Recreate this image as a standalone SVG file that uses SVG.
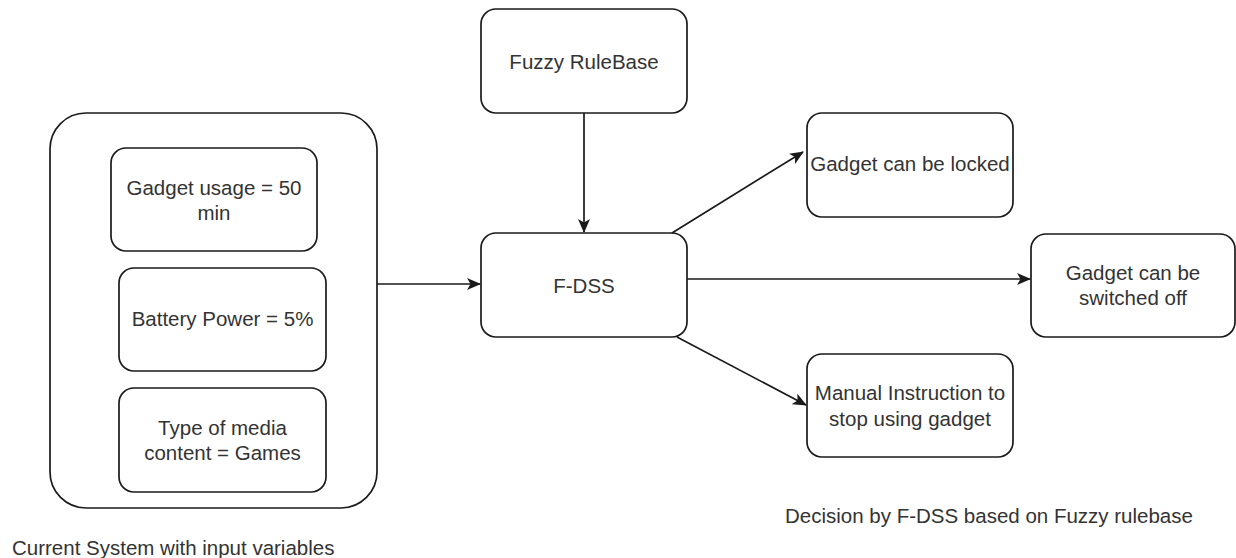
<svg xmlns="http://www.w3.org/2000/svg" width="1236" height="558" viewBox="0 0 1236 558">
<style>
.box{fill:#fff;stroke:#1a1a1a;stroke-width:1.7}
.t{font-family:"Liberation Sans",Arial,sans-serif;font-size:20.5px;fill:#333;text-anchor:middle;dominant-baseline:central}
.lbl{font-family:"Liberation Sans",Arial,sans-serif;font-size:20.5px;fill:#333;dominant-baseline:central}
.edge{fill:none;stroke:#1a1a1a;stroke-width:1.7}
</style>
<defs>
<marker id="arr" viewBox="0 0 14 12" refX="13" refY="6" markerWidth="14" markerHeight="12" markerUnits="userSpaceOnUse" orient="auto">
<path d="M0,0 L14,6 L0,12 L3.5,6 Z" fill="#1a1a1a"/>
</marker>
</defs>
<rect width="1236" height="558" fill="#fff"/>
<g id="container">
<rect class="box" x="50" y="113" width="327" height="395" rx="36" ry="36"/>
</g>
<g id="usage">
<rect class="box" x="111" y="148" width="206" height="103" rx="15" ry="15"/>
<text class="t" x="214" y="187">Gadget usage = 50</text>
<text class="t" x="214" y="212">min</text>
</g>
<g id="battery">
<rect class="box" x="119" y="268" width="207" height="103" rx="15" ry="15"/>
<text class="t" x="222.5" y="318">Battery Power = 5%</text>
</g>
<g id="media">
<rect class="box" x="119" y="388" width="207" height="104" rx="15" ry="15"/>
<text class="t" x="222.5" y="427">Type of media</text>
<text class="t" x="222.5" y="452">content = Games</text>
</g>
<g id="fuzzy">
<rect class="box" x="481" y="9" width="206" height="104" rx="15" ry="15"/>
<text class="t" x="584" y="61">Fuzzy RuleBase</text>
</g>
<g id="fdss">
<rect class="box" x="481" y="233" width="206" height="104" rx="15" ry="15"/>
<text class="t" x="584" y="285">F-DSS</text>
</g>
<g id="locked">
<rect class="box" x="807" y="113" width="206" height="104" rx="15" ry="15"/>
<text class="t" x="910" y="163">Gadget can be locked</text>
</g>
<g id="switched">
<rect class="box" x="1031" y="234" width="204" height="103" rx="15" ry="15"/>
<text class="t" x="1133" y="272">Gadget can be</text>
<text class="t" x="1133" y="297">switched off</text>
</g>
<g id="manual">
<rect class="box" x="807" y="354" width="206" height="103" rx="15" ry="15"/>
<text class="t" x="910" y="392">Manual Instruction to</text>
<text class="t" x="910" y="418">stop using gadget</text>
</g>
<g id="connectors">
<line class="edge" x1="377" y1="284" x2="480" y2="284" marker-end="url(#arr)"/>
<line class="edge" x1="584" y1="113" x2="584" y2="232" marker-end="url(#arr)"/>
<line class="edge" x1="672" y1="233" x2="803" y2="152" marker-end="url(#arr)"/>
<line class="edge" x1="687" y1="279" x2="1030" y2="279" marker-end="url(#arr)"/>
<line class="edge" x1="677" y1="337" x2="806" y2="405" marker-end="url(#arr)"/>
</g>
<g id="labels">
<text class="lbl" x="12" y="547">Current System with input variables</text>
<text class="lbl" x="785" y="515">Decision by F-DSS based on Fuzzy rulebase</text>
</g>
</svg>
